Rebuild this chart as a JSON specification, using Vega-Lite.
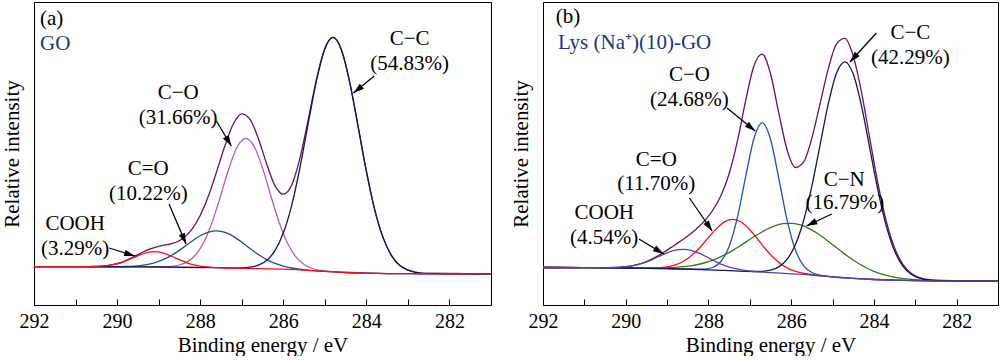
{
  "$schema": "https://vega.github.io/schema/vega-lite/v6.json",
  "padding": {"left": 0, "top": 1, "right": 0, "bottom": 0},
  "background": "white",
  "bounds": "flush",
  "spacing": 52,
  "config": {
    "view": {"stroke": "black", "strokeWidth": 1},
    "axis": {"grid": false, "domainColor": "black", "tickColor": "black", "labelColor": "black", "titleColor": "black", "labelFont": "Liberation Serif", "titleFont": "Liberation Serif", "labelFontSize": 20, "titleFontSize": 21, "titleFontWeight": "normal"},
    "text": {"font": "Liberation Serif", "fontSize": 21, "color": "black"},
    "line": {"strokeWidth": 1.3, "interpolate": "monotone"}
  },
  "datasets": {
    "a_lines": [
      {"s":"env","x":292,"y":38.3},{"s":"env","x":291,"y":38.3},{"s":"env","x":290.8,"y":38.3},{"s":"env","x":290.6,"y":38.5},{"s":"env","x":290.4,"y":38.8},{"s":"env","x":290.2,"y":39.7},{"s":"env","x":290,"y":41.3},{"s":"env","x":289.8,"y":44.2},{"s":"env","x":289.6,"y":48.2},{"s":"env","x":289.4,"y":52.5},{"s":"env","x":289.2,"y":56.1},{"s":"env","x":289,"y":58.7},{"s":"env","x":288.8,"y":60.3},{"s":"env","x":288.6,"y":62.5},{"s":"env","x":288.4,"y":67.0},{"s":"env","x":288.2,"y":75.6},{"s":"env","x":288,"y":89.5},{"s":"env","x":287.8,"y":109.2},{"s":"env","x":287.6,"y":133.9},{"s":"env","x":287.4,"y":159.8},{"s":"env","x":287.2,"y":181.3},{"s":"env","x":287,"y":191.2},{"s":"env","x":286.8,"y":185.6},{"s":"env","x":286.6,"y":166.6},{"s":"env","x":286.4,"y":141.0},{"s":"env","x":286.2,"y":119.4},{"s":"env","x":286,"y":110.8},{"s":"env","x":285.8,"y":119.7},{"s":"env","x":285.6,"y":146.6},{"s":"env","x":285.4,"y":185.2},{"s":"env","x":285.2,"y":225.8},{"s":"env","x":285,"y":256.4},{"s":"env","x":284.8,"y":267.7},{"s":"env","x":284.6,"y":255.1},{"s":"env","x":284.4,"y":222.7},{"s":"env","x":284.2,"y":178.8},{"s":"env","x":284,"y":133.8},{"s":"env","x":283.8,"y":95.4},{"s":"env","x":283.6,"y":67.6},{"s":"env","x":283.4,"y":49.7},{"s":"env","x":283.2,"y":39.7},{"s":"env","x":283,"y":34.8},{"s":"env","x":282.8,"y":32.6},{"s":"env","x":282.6,"y":31.6},{"s":"env","x":281,"y":31.2},
      {"s":"co","x":292,"y":38.3},{"s":"co","x":291,"y":38.3},{"s":"co","x":290,"y":38.2},{"s":"co","x":289.5,"y":38.1},{"s":"co","x":288.9,"y":38.2},{"s":"co","x":288.7,"y":38.6},{"s":"co","x":288.5,"y":40.0},{"s":"co","x":288.3,"y":43.4},{"s":"co","x":288.1,"y":50.7},{"s":"co","x":287.9,"y":63.8},{"s":"co","x":287.7,"y":84.1},{"s":"co","x":287.5,"y":110.3},{"s":"co","x":287.3,"y":137.7},{"s":"co","x":287.1,"y":158.7},{"s":"co","x":286.9,"y":166.6},{"s":"co","x":286.7,"y":158.4},{"s":"co","x":286.5,"y":137.1},{"s":"co","x":286.3,"y":109.3},{"s":"co","x":286.1,"y":82.7},{"s":"co","x":285.9,"y":62.0},{"s":"co","x":285.7,"y":48.3},{"s":"co","x":285.5,"y":40.5},{"s":"co","x":285.3,"y":36.5},{"s":"co","x":285.1,"y":34.6},{"s":"co","x":284.9,"y":33.6},{"s":"co","x":284.5,"y":32.5},{"s":"co","x":284,"y":31.8},{"s":"co","x":283.5,"y":31.4},{"s":"co","x":283,"y":31.3},{"s":"co","x":281,"y":31.2},
      {"s":"c2o","x":292,"y":38.3},{"s":"c2o","x":291,"y":38.3},{"s":"c2o","x":290,"y":38.3},{"s":"c2o","x":289.8,"y":38.5},{"s":"c2o","x":289.6,"y":38.9},{"s":"c2o","x":289.4,"y":39.7},{"s":"c2o","x":289.2,"y":41.1},{"s":"c2o","x":289,"y":43.6},{"s":"c2o","x":288.8,"y":47.1},{"s":"c2o","x":288.6,"y":51.9},{"s":"c2o","x":288.4,"y":57.6},{"s":"c2o","x":288.2,"y":63.8},{"s":"c2o","x":288,"y":69.2},{"s":"c2o","x":287.8,"y":72.9},{"s":"c2o","x":287.6,"y":74.2},{"s":"c2o","x":287.4,"y":72.6},{"s":"c2o","x":287.2,"y":68.6},{"s":"c2o","x":287,"y":62.9},{"s":"c2o","x":286.8,"y":56.4},{"s":"c2o","x":286.6,"y":50.5},{"s":"c2o","x":286.4,"y":45.4},{"s":"c2o","x":286.2,"y":41.6},{"s":"c2o","x":286,"y":38.9},{"s":"c2o","x":285.8,"y":37.0},{"s":"c2o","x":285.6,"y":35.8},{"s":"c2o","x":285.4,"y":34.9},{"s":"c2o","x":285.2,"y":34.2},{"s":"c2o","x":285,"y":33.6},{"s":"c2o","x":284.5,"y":32.5},{"s":"c2o","x":284,"y":31.8},{"s":"c2o","x":283.5,"y":31.4},{"s":"c2o","x":283,"y":31.3},{"s":"c2o","x":281,"y":31.2},
      {"s":"cc","x":292,"y":38.3},{"s":"cc","x":291,"y":38.3},{"s":"cc","x":290,"y":38.2},{"s":"cc","x":289,"y":38.0},{"s":"cc","x":288,"y":37.5},{"s":"cc","x":287,"y":37.1},{"s":"cc","x":286.8,"y":37.8},{"s":"cc","x":286.6,"y":39.9},{"s":"cc","x":286.4,"y":44.6},{"s":"cc","x":286.2,"y":54.3},{"s":"cc","x":286,"y":71.9},{"s":"cc","x":285.8,"y":99.2},{"s":"cc","x":285.6,"y":137.0},{"s":"cc","x":285.4,"y":181.3},{"s":"cc","x":285.2,"y":224.4},{"s":"cc","x":285,"y":256.0},{"s":"cc","x":284.8,"y":267.6},{"s":"cc","x":284.6,"y":255.1},{"s":"cc","x":284.4,"y":222.7},{"s":"cc","x":284.2,"y":178.8},{"s":"cc","x":284,"y":133.8},{"s":"cc","x":283.8,"y":95.4},{"s":"cc","x":283.6,"y":67.6},{"s":"cc","x":283.4,"y":49.7},{"s":"cc","x":283.2,"y":39.7},{"s":"cc","x":283,"y":34.8},{"s":"cc","x":282.8,"y":32.6},{"s":"cc","x":282.6,"y":31.6},{"s":"cc","x":281,"y":31.2},
      {"s":"cooh","x":292,"y":38.3},{"s":"cooh","x":291,"y":38.3},{"s":"cooh","x":290.7,"y":38.4},{"s":"cooh","x":290.5,"y":38.6},{"s":"cooh","x":290.3,"y":39.1},{"s":"cooh","x":290.1,"y":40.3},{"s":"cooh","x":289.9,"y":42.4},{"s":"cooh","x":289.7,"y":45.6},{"s":"cooh","x":289.5,"y":49.2},{"s":"cooh","x":289.3,"y":52.2},{"s":"cooh","x":289.1,"y":53.3},{"s":"cooh","x":288.9,"y":52.1},{"s":"cooh","x":288.7,"y":49.0},{"s":"cooh","x":288.5,"y":45.3},{"s":"cooh","x":288.3,"y":41.9},{"s":"cooh","x":288.1,"y":39.6},{"s":"cooh","x":287.9,"y":38.3},{"s":"cooh","x":287.7,"y":37.6},{"s":"cooh","x":287.5,"y":37.2},{"s":"cooh","x":287,"y":36.7},{"s":"cooh","x":286.5,"y":36.3},{"s":"cooh","x":286,"y":35.8},{"s":"cooh","x":285.5,"y":34.8},{"s":"cooh","x":285,"y":33.6},{"s":"cooh","x":284.5,"y":32.5},{"s":"cooh","x":284,"y":31.8},{"s":"cooh","x":283.5,"y":31.4},{"s":"cooh","x":283,"y":31.3},{"s":"cooh","x":282.5,"y":31.2},{"s":"cooh","x":281,"y":31.2}
    ],
    "b_lines": [
      {"s":"env","x":292,"y":37.5},{"s":"env","x":291.1,"y":37.4},{"s":"env","x":290.9,"y":37.4},{"s":"env","x":290.7,"y":37.3},{"s":"env","x":290.5,"y":37.3},{"s":"env","x":290.3,"y":37.5},{"s":"env","x":290.1,"y":37.9},{"s":"env","x":289.9,"y":38.9},{"s":"env","x":289.7,"y":40.7},{"s":"env","x":289.5,"y":43.5},{"s":"env","x":289.3,"y":47.4},{"s":"env","x":289.1,"y":52.2},{"s":"env","x":288.9,"y":57.6},{"s":"env","x":288.7,"y":63.1},{"s":"env","x":288.5,"y":69.0},{"s":"env","x":288.3,"y":75.8},{"s":"env","x":288.1,"y":83.9},{"s":"env","x":287.9,"y":94.5},{"s":"env","x":287.7,"y":109.3},{"s":"env","x":287.5,"y":131.3},{"s":"env","x":287.3,"y":163.8},{"s":"env","x":287.1,"y":204.3},{"s":"env","x":286.9,"y":239.3},{"s":"env","x":286.7,"y":250.8},{"s":"env","x":286.5,"y":231.3},{"s":"env","x":286.3,"y":192.1},{"s":"env","x":286.1,"y":155.2},{"s":"env","x":285.9,"y":137.5},{"s":"env","x":285.7,"y":142.8},{"s":"env","x":285.5,"y":166.9},{"s":"env","x":285.3,"y":201.6},{"s":"env","x":285.1,"y":236.7},{"s":"env","x":284.9,"y":261.4},{"s":"env","x":284.7,"y":266.7},{"s":"env","x":284.5,"y":249.1},{"s":"env","x":284.3,"y":212.8},{"s":"env","x":284.1,"y":166.6},{"s":"env","x":283.9,"y":121.0},{"s":"env","x":283.7,"y":83.5},{"s":"env","x":283.5,"y":57.0},{"s":"env","x":283.3,"y":40.7},{"s":"env","x":283.1,"y":31.8},{"s":"env","x":282.9,"y":27.4},{"s":"env","x":282.7,"y":25.5},{"s":"env","x":282.5,"y":24.7},{"s":"env","x":281,"y":24.1},
      {"s":"cn","x":292,"y":37.5},{"s":"cn","x":291,"y":37.4},{"s":"cn","x":290,"y":37.0},{"s":"cn","x":289.6,"y":36.9},{"s":"cn","x":289.4,"y":36.9},{"s":"cn","x":289.2,"y":36.9},{"s":"cn","x":289,"y":37.2},{"s":"cn","x":288.8,"y":37.6},{"s":"cn","x":288.6,"y":38.3},{"s":"cn","x":288.4,"y":39.4},{"s":"cn","x":288.2,"y":41.0},{"s":"cn","x":288,"y":43.4},{"s":"cn","x":287.8,"y":46.4},{"s":"cn","x":287.6,"y":50.3},{"s":"cn","x":287.4,"y":54.9},{"s":"cn","x":287.2,"y":60.1},{"s":"cn","x":287,"y":65.5},{"s":"cn","x":286.8,"y":70.8},{"s":"cn","x":286.6,"y":75.5},{"s":"cn","x":286.4,"y":79.2},{"s":"cn","x":286.2,"y":81.3},{"s":"cn","x":286,"y":81.7},{"s":"cn","x":285.8,"y":80.3},{"s":"cn","x":285.6,"y":77.2},{"s":"cn","x":285.4,"y":72.5},{"s":"cn","x":285.2,"y":66.7},{"s":"cn","x":285,"y":60.3},{"s":"cn","x":284.8,"y":53.9},{"s":"cn","x":284.6,"y":47.7},{"s":"cn","x":284.4,"y":42.2},{"s":"cn","x":284.2,"y":37.5},{"s":"cn","x":284,"y":33.7},{"s":"cn","x":283.8,"y":30.8},{"s":"cn","x":283.6,"y":28.6},{"s":"cn","x":283.4,"y":27.1},{"s":"cn","x":283.2,"y":26.1},{"s":"cn","x":283,"y":25.3},{"s":"cn","x":282.8,"y":24.8},{"s":"cn","x":282.6,"y":24.5},{"s":"cn","x":282.4,"y":24.3},{"s":"cn","x":281,"y":24.1},
      {"s":"c2o","x":292,"y":37.5},{"s":"c2o","x":291,"y":37.4},{"s":"c2o","x":290,"y":37.0},{"s":"c2o","x":289.6,"y":36.9},{"s":"c2o","x":289.4,"y":36.9},{"s":"c2o","x":289.2,"y":37.2},{"s":"c2o","x":289,"y":38.2},{"s":"c2o","x":288.8,"y":40.1},{"s":"c2o","x":288.6,"y":43.8},{"s":"c2o","x":288.4,"y":49.7},{"s":"c2o","x":288.2,"y":57.8},{"s":"c2o","x":288,"y":67.4},{"s":"c2o","x":287.8,"y":76.6},{"s":"c2o","x":287.6,"y":83.4},{"s":"c2o","x":287.4,"y":85.6},{"s":"c2o","x":287.2,"y":82.7},{"s":"c2o","x":287,"y":75.2},{"s":"c2o","x":286.8,"y":65.2},{"s":"c2o","x":286.6,"y":55.0},{"s":"c2o","x":286.4,"y":46.2},{"s":"c2o","x":286.2,"y":39.6},{"s":"c2o","x":286,"y":35.2},{"s":"c2o","x":285.8,"y":32.6},{"s":"c2o","x":285.6,"y":31.0},{"s":"c2o","x":285.4,"y":29.9},{"s":"c2o","x":285.2,"y":29.0},{"s":"c2o","x":285,"y":28.2},{"s":"c2o","x":284.5,"y":26.6},{"s":"c2o","x":284,"y":25.5},{"s":"c2o","x":283.5,"y":24.8},{"s":"c2o","x":283,"y":24.4},{"s":"c2o","x":282.5,"y":24.2},{"s":"c2o","x":281,"y":24.1},
      {"s":"co","x":292,"y":37.5},{"s":"co","x":291,"y":37.4},{"s":"co","x":290,"y":37.0},{"s":"co","x":289,"y":36.3},{"s":"co","x":288.3,"y":35.7},{"s":"co","x":288.1,"y":35.9},{"s":"co","x":287.9,"y":37.5},{"s":"co","x":287.7,"y":43.5},{"s":"co","x":287.5,"y":58.6},{"s":"co","x":287.3,"y":87.6},{"s":"co","x":287.1,"y":128.4},{"s":"co","x":286.9,"y":166.5},{"s":"co","x":286.7,"y":182.1},{"s":"co","x":286.5,"y":165.7},{"s":"co","x":286.3,"y":126.7},{"s":"co","x":286.1,"y":85.1},{"s":"co","x":285.9,"y":55.3},{"s":"co","x":285.7,"y":39.3},{"s":"co","x":285.5,"y":32.5},{"s":"co","x":285.3,"y":29.9},{"s":"co","x":285.1,"y":28.7},{"s":"co","x":285,"y":28.2},{"s":"co","x":284.5,"y":26.6},{"s":"co","x":284,"y":25.5},{"s":"co","x":283.5,"y":24.8},{"s":"co","x":283,"y":24.4},{"s":"co","x":282.5,"y":24.2},{"s":"co","x":281,"y":24.1},
      {"s":"cc","x":292,"y":37.5},{"s":"cc","x":291,"y":37.4},{"s":"cc","x":290,"y":37.0},{"s":"cc","x":289,"y":36.3},{"s":"cc","x":288,"y":35.2},{"s":"cc","x":287.5,"y":34.3},{"s":"cc","x":287.1,"y":33.6},{"s":"cc","x":286.9,"y":33.5},{"s":"cc","x":286.7,"y":33.6},{"s":"cc","x":286.5,"y":34.8},{"s":"cc","x":286.3,"y":38.1},{"s":"cc","x":286.1,"y":45.6},{"s":"cc","x":285.9,"y":60.2},{"s":"cc","x":285.7,"y":84.3},{"s":"cc","x":285.5,"y":118.8},{"s":"cc","x":285.3,"y":160.4},{"s":"cc","x":285.1,"y":201.6},{"s":"cc","x":284.9,"y":232.2},{"s":"cc","x":284.7,"y":243.2},{"s":"cc","x":284.5,"y":230.9},{"s":"cc","x":284.3,"y":199.2},{"s":"cc","x":284.1,"y":156.8},{"s":"cc","x":283.9,"y":114.2},{"s":"cc","x":283.7,"y":78.9},{"s":"cc","x":283.5,"y":54.0},{"s":"cc","x":283.3,"y":38.8},{"s":"cc","x":283.1,"y":30.7},{"s":"cc","x":282.9,"y":26.8},{"s":"cc","x":282.7,"y":25.1},{"s":"cc","x":282.5,"y":24.5},{"s":"cc","x":281,"y":24.1},
      {"s":"cooh","x":292,"y":37.5},{"s":"cooh","x":291,"y":37.4},{"s":"cooh","x":290.6,"y":37.3},{"s":"cooh","x":290.4,"y":37.4},{"s":"cooh","x":290.2,"y":37.7},{"s":"cooh","x":290,"y":38.3},{"s":"cooh","x":289.8,"y":39.6},{"s":"cooh","x":289.6,"y":41.7},{"s":"cooh","x":289.4,"y":44.7},{"s":"cooh","x":289.2,"y":48.5},{"s":"cooh","x":289,"y":52.2},{"s":"cooh","x":288.8,"y":54.8},{"s":"cooh","x":288.6,"y":55.7},{"s":"cooh","x":288.4,"y":54.4},{"s":"cooh","x":288.2,"y":51.3},{"s":"cooh","x":288,"y":47.2},{"s":"cooh","x":287.8,"y":42.9},{"s":"cooh","x":287.6,"y":39.4},{"s":"cooh","x":287.4,"y":36.8},{"s":"cooh","x":287.2,"y":35.1},{"s":"cooh","x":287,"y":34.0},{"s":"cooh","x":286.8,"y":33.2},{"s":"cooh","x":286.6,"y":32.7},{"s":"cooh","x":286,"y":31.2},{"s":"cooh","x":285.5,"y":30.0},{"s":"cooh","x":285,"y":28.2},{"s":"cooh","x":284.5,"y":26.6},{"s":"cooh","x":284,"y":25.5},{"s":"cooh","x":283.5,"y":24.8},{"s":"cooh","x":283,"y":24.4},{"s":"cooh","x":282.5,"y":24.2},{"s":"cooh","x":281,"y":24.1}
    ],
    "a_text": [
      {"x":282.96,"y":266,"t":"C−C"},{"x":282.96,"y":241,"t":"(54.83%)"},
      {"x":288.53,"y":212,"t":"C−O"},{"x":288.53,"y":187,"t":"(31.66%)"},
      {"x":289.25,"y":136,"t":"C=O"},{"x":289.25,"y":111,"t":"(10.22%)"},
      {"x":291.01,"y":81,"t":"COOH"},{"x":291.01,"y":56,"t":"(3.29%)"}
    ],
    "a_arrows": [
      {"x":283.81,"y":229,"x2":284.31,"y2":212},
      {"x":287.61,"y":184,"x2":287.25,"y2":159},
      {"x":288.75,"y":101,"x2":288.34,"y2":61},
      {"x":290.19,"y":57,"x2":289.57,"y2":49}
    ],
    "a_heads": [
      {"x":284.31,"y":212,"ang":231},
      {"x":287.25,"y":159,"ang":149},
      {"x":288.34,"y":61,"ang":157},
      {"x":289.57,"y":49,"ang":107}
    ],
    "b_text": [
      {"x":283.12,"y":272,"t":"C−C"},{"x":283.12,"y":247,"t":"(42.29%)"},
      {"x":288.46,"y":230,"t":"C−O"},{"x":288.46,"y":205,"t":"(24.68%)"},
      {"x":289.26,"y":145,"t":"C=O"},{"x":289.26,"y":121,"t":"(11.70%)"},
      {"x":284.72,"y":125,"t":"C−N"},{"x":284.70,"y":102,"t":"(16.79%)"},
      {"x":290.52,"y":92,"t":"COOH"},{"x":290.52,"y":67,"t":"(4.54%)"}
    ],
    "b_arrows": [
      {"x":283.94,"y":272,"x2":284.58,"y2":243},
      {"x":287.55,"y":197,"x2":286.87,"y2":174},
      {"x":288.46,"y":107,"x2":287.91,"y2":74},
      {"x":285.02,"y":91,"x2":285.63,"y2":79},
      {"x":289.68,"y":66,"x2":289.08,"y2":51}
    ],
    "b_heads": [
      {"x":284.58,"y":243,"ang":223},
      {"x":286.87,"y":174,"ang":129},
      {"x":287.91,"y":74,"ang":146},
      {"x":285.63,"y":79,"ang":244},
      {"x":289.08,"y":51,"ang":121}
    ]
  },
  "hconcat": [
    {
      "width": 457,
      "height": 303,
      "encoding": {
        "x": {"field": "x", "type": "quantitative", "scale": {"domain": [281, 292], "reverse": true, "nice": false, "zero": false},
          "axis": {"title": "Binding energy / eV", "values": [292, 291, 290, 289, 288, 287, 286, 285, 284, 283, 282], "labelExpr": "datum.value % 2 === 0 ? datum.label : ''", "tickSize": -6, "labelPadding": 12, "labelFlush": false, "labelOverlap": false, "titlePadding": 3}},
        "y": {"field": "y", "type": "quantitative", "scale": {"domain": [0, 303], "nice": false, "zero": false},
          "axis": {"title": "Relative intensity", "labels": false, "ticks": false, "titlePadding": 12}}
      },
      "layer": [
        {"data": {"name": "a_lines"}, "transform": [{"filter": "datum.s === 'env'"}], "mark": {"type": "line", "color": "#64106a"}},
        {"data": {"name": "a_lines"}, "transform": [{"filter": "datum.s === 'co'"}], "mark": {"type": "line", "color": "#b25cb2"}},
        {"data": {"name": "a_lines"}, "transform": [{"filter": "datum.s === 'c2o'"}], "mark": {"type": "line", "color": "#1f4e9e"}},
        {"data": {"name": "a_lines"}, "transform": [{"filter": "datum.s === 'cc'"}], "mark": {"type": "line", "color": "#16165a"}},
        {"data": {"name": "a_lines"}, "transform": [{"filter": "datum.s === 'cooh'"}], "mark": {"type": "line", "color": "#e8141c"}},
        {"data": {"name": "a_arrows"}, "mark": {"type": "rule", "color": "black", "strokeWidth": 1.3}, "encoding": {"x2": {"field": "x2"}, "y2": {"field": "y2"}}},
        {"data": {"name": "a_heads"}, "mark": {"type": "point", "shape": "M0,0L-0.55,1.8L0.55,1.8Z", "filled": true, "color": "black", "opacity": 1, "size": 144}, "encoding": {"angle": {"field": "ang", "type": "quantitative", "scale": null}}},
        {"data": {"name": "a_text"}, "mark": {"type": "text", "align": "center", "baseline": "middle"}, "encoding": {"text": {"field": "t"}}},
        {"data": {"values": [{"x": 291.855, "y": 286, "t": "(a)"}]}, "mark": {"type": "text", "align": "left", "baseline": "middle"}, "encoding": {"text": {"field": "t"}}},
        {"data": {"values": [{"x": 291.855, "y": 261, "t": "GO"}]}, "mark": {"type": "text", "align": "left", "baseline": "middle", "color": "#1a3590"}, "encoding": {"text": {"field": "t"}}}
      ]
    },
    {
      "width": 455,
      "height": 303,
      "encoding": {
        "x": {"field": "x", "type": "quantitative", "scale": {"domain": [281, 292], "reverse": true, "nice": false, "zero": false},
          "axis": {"title": "Binding energy / eV", "values": [292, 291, 290, 289, 288, 287, 286, 285, 284, 283, 282], "labelExpr": "datum.value % 2 === 0 ? datum.label : ''", "tickSize": -6, "labelPadding": 12, "labelFlush": false, "labelOverlap": false, "titlePadding": 3}},
        "y": {"field": "y", "type": "quantitative", "scale": {"domain": [0, 303], "nice": false, "zero": false},
          "axis": {"title": "Relative intensity", "labels": false, "ticks": false, "titlePadding": 12}}
      },
      "layer": [
        {"data": {"name": "b_lines"}, "transform": [{"filter": "datum.s === 'env'"}], "mark": {"type": "line", "color": "#64106a"}},
        {"data": {"name": "b_lines"}, "transform": [{"filter": "datum.s === 'cn'"}], "mark": {"type": "line", "color": "#2e7d12"}},
        {"data": {"name": "b_lines"}, "transform": [{"filter": "datum.s === 'c2o'"}], "mark": {"type": "line", "color": "#e8141c"}},
        {"data": {"name": "b_lines"}, "transform": [{"filter": "datum.s === 'co'"}], "mark": {"type": "line", "color": "#1d4fc4"}},
        {"data": {"name": "b_lines"}, "transform": [{"filter": "datum.s === 'cc'"}], "mark": {"type": "line", "color": "#16165a"}},
        {"data": {"name": "b_lines"}, "transform": [{"filter": "datum.s === 'cooh'"}], "mark": {"type": "line", "color": "#5b3ea8"}},
        {"data": {"name": "b_arrows"}, "mark": {"type": "rule", "color": "black", "strokeWidth": 1.3}, "encoding": {"x2": {"field": "x2"}, "y2": {"field": "y2"}}},
        {"data": {"name": "b_heads"}, "mark": {"type": "point", "shape": "M0,0L-0.55,1.8L0.55,1.8Z", "filled": true, "color": "black", "opacity": 1, "size": 144}, "encoding": {"angle": {"field": "ang", "type": "quantitative", "scale": null}}},
        {"data": {"name": "b_text"}, "mark": {"type": "text", "align": "center", "baseline": "middle"}, "encoding": {"text": {"field": "t"}}},
        {"data": {"values": [{"x": 291.69, "y": 288, "t": "(b)"}]}, "mark": {"type": "text", "align": "left", "baseline": "middle"}, "encoding": {"text": {"field": "t"}}},
        {"data": {"values": [{"x": 291.64, "y": 262, "t": "Lys (Na⁺)(10)-GO"}]}, "mark": {"type": "text", "align": "left", "baseline": "middle", "color": "#1a3590"}, "encoding": {"text": {"field": "t"}}}
      ]
    }
  ]
}
